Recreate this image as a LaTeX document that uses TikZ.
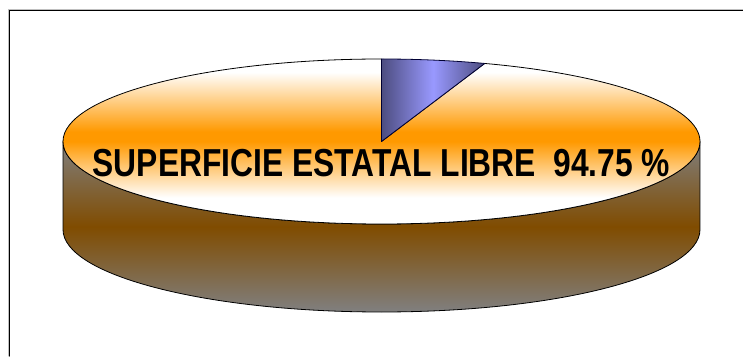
\documentclass[tikz,border=0pt]{standalone}
\usepackage{fontspec}
\setmainfont{Liberation Sans}
\definecolor{toporange}{RGB}{255,153,0}
\definecolor{sidebrown}{RGB}{128,76,0}
\definecolor{slicedark}{RGB}{77,77,128}
\definecolor{slicelight}{RGB}{153,153,255}
\pgfdeclareverticalshading{topfill}{100bp}{color(0bp)=(white); color(33bp)=(white); color(50bp)=(toporange); color(53bp)=(toporange); color(71bp)=(white); color(100bp)=(white)}
\begin{document}
\begin{tikzpicture}[x=1pt,y=1pt,line cap=round,line join=round,
  outline/.style={draw=black,line width=0.8pt}]
\useasboundingbox (0,0) rectangle (743,356);
\draw[color=gray!50,line width=1pt] (8.3,0) -- (8.3,346.7) -- (743,346.7);
\draw[color=black,line width=1.1pt] (9.8,0) -- (9.8,345.5) -- (743,345.5);
\coordinate (c) at (381.5,214.5);
\draw[outline,top color=gray,bottom color=gray,middle color=sidebrown] (c) ++(-318.5,0) -- ++(0,-88) arc[start angle=180,end angle=360,x radius=318.5,y radius=82.5] -- ++(0,88) arc[start angle=0,end angle=-180,x radius=318.5,y radius=82.5] -- cycle;
\draw[outline,shading=topfill] (c) -- ++(0,82.5) arc[start angle=90,end angle=431.1,x radius=318.5,y radius=82.5] -- cycle;
\draw[draw=black!80!blue,line width=0.8pt,left color=slicedark,right color=slicedark,middle color=slicelight] (c) -- ++(71.1:318.5 and 82.5) arc[start angle=71.1,end angle=90,x radius=318.5,y radius=82.5] -- cycle;
\node[anchor=base,xscale=0.815,font=\fontsize{39}{44}\selectfont\bfseries] (label) at (381.5,179) {SUPERFICIE ESTATAL LIBRE\ \ 94.75 \%};
\end{tikzpicture}
\end{document}
